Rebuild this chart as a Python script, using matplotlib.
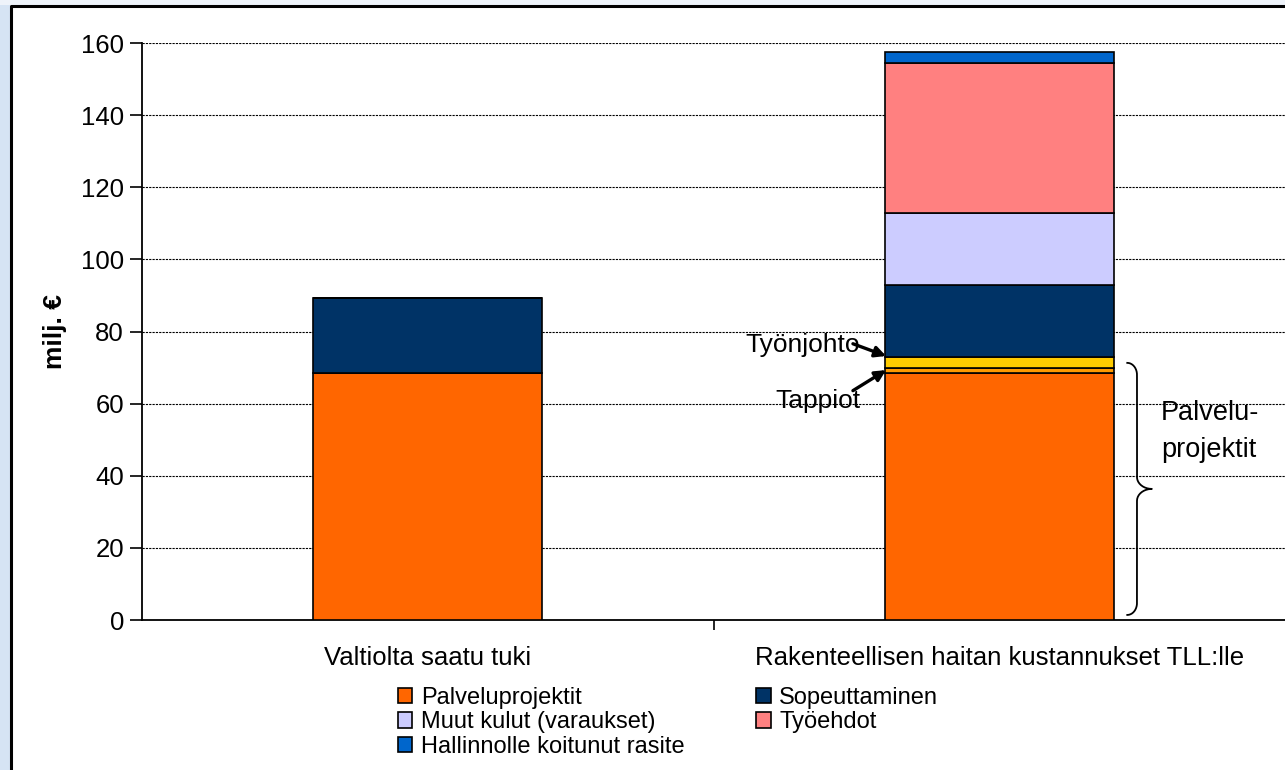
import matplotlib.pyplot as plt
from matplotlib.patches import Rectangle
from matplotlib.lines import Line2D
import numpy as np

plt.rcParams['font.family'] = ['Liberation Sans', 'DejaVu Sans']

# data
categories = ['Valtiolta saatu tuki', 'Rakenteellisen haitan kustannukset TLL:lle']
palveluprojektit = [68.5, 68.5]
tappiot = [0, 1.4]
tyonjohto = [0, 3.1]
sopeuttaminen = [20.8, 19.9]
muut_kulut = [0, 20.0]
tyoehdot = [0, 41.6]
hallinnolle = [0, 2.9]

series = [
    ('Palveluprojektit', palveluprojektit, '#FF6600'),
    ('Tappiot', tappiot, '#FF9900'),
    ('Työnjohto', tyonjohto, '#FFCC00'),
    ('Sopeuttaminen', sopeuttaminen, '#003366'),
    ('Muut kulut (varaukset)', muut_kulut, '#CCCCFF'),
    ('Työehdot', tyoehdot, '#FF8080'),
    ('Hallinnolle koitunut rasite', hallinnolle, '#0066CC'),
]

FS = 18.5

fig = plt.figure(figsize=(12.85, 7.70), dpi=100)
fig.patch.set_facecolor('white')
# left light blue strip + frame lines
fig.patches.append(Rectangle((0, 0), 10 / 1285, 1, transform=fig.transFigure,
                             facecolor='#D6E4F4', edgecolor='none', zorder=-5))
fig.patches.append(Rectangle((0, 1 - 5 / 770), 1, 5 / 770, transform=fig.transFigure,
                             facecolor='#EEF3FA', edgecolor='none', zorder=-5))
fig.lines.append(Line2D([11 / 1285, 11 / 1285, 1], [0, 1 - 6 / 770, 1 - 6 / 770],
                        transform=fig.transFigure, color='black', lw=2.2, zorder=-4))

ax = fig.add_axes([142 / 1285, 1 - 620 / 770, 1 - 142 / 1285, (620 - 43) / 770])
ax.set_facecolor('none')

x = np.arange(len(categories))
bottom = np.zeros(len(categories))
handles = {}
for name, vals, col in series:
    vals = np.array(vals, dtype=float)
    b = ax.bar(x, vals, 0.4, bottom=bottom, color=col, edgecolor='black',
               linewidth=1.2, zorder=3, label=name)
    handles[name] = b
    bottom += vals

ax.set_xlim(-0.5, 1.5)
ax.set_ylim(0, 160)
ax.set_yticks(np.arange(0, 161, 20))
ax.yaxis.grid(True, linestyle=(0, (2, 1)), color='black', linewidth=0.8, zorder=0)
ax.set_axisbelow(True)

ax.set_xticks(x)
ax.set_xticklabels(categories, fontsize=FS)
ax.set_xticks([0.5], minor=True)
ax.tick_params(axis='x', which='major', length=0, pad=19)
ax.tick_params(axis='x', which='minor', length=7, width=1.2, direction='out')
ax.tick_params(axis='y', length=9, width=1.2, labelsize=FS, pad=4)
for s in ['top', 'right']:
    ax.spines[s].set_visible(False)
for s in ['left', 'bottom']:
    ax.spines[s].set_linewidth(1.3)

ax.set_ylabel('milj. €', fontsize=19, fontweight='bold', labelpad=10)

# annotations for the thin layers
arrow = dict(arrowstyle='-|>', color='black', lw=2.4, mutation_scale=16,
             shrinkA=0, shrinkB=0)
ax.text(0.555, 76.3, 'Työnjohto', fontsize=19, ha='left', va='center')
ax.annotate('', xy=(0.802, 73.2), xytext=(0.744, 76.6), arrowprops=arrow)
ax.text(0.608, 60.8, 'Tappiot', fontsize=19, ha='left', va='center')
ax.annotate('', xy=(0.802, 69.3), xytext=(0.744, 63.6), arrowprops=arrow)

# curly brace beside the Palveluprojektit part of bar 2
bx = 1.241
y0, y1 = 1.4, 71.3
ym = (y0 + y1) / 2
cw, pw, ch = 0.017, 0.026, 3.3
q = np.linspace(0, np.pi / 2, 20)
xs_top = np.concatenate([
    bx - cw + cw * np.sin(q),
    np.full(40, bx),
    bx + (pw) * (1 - np.cos(q)),
])
ys_top = np.concatenate([
    y1 - ch * (1 - np.cos(q)),
    np.linspace(y1 - ch, ym + ch, 40),
    ym + ch * (1 - np.sin(q)),
])
xs_bot = xs_top[::-1]
ys_bot = 2 * ym - ys_top[::-1]
ax.plot(np.concatenate([xs_top, xs_bot]), np.concatenate([ys_top, ys_bot]),
        color='black', lw=1.3, zorder=4, clip_on=False)
ax.text(1.283, 61.0, 'Palvelu-\nprojektit', fontsize=19.5, ha='left', va='top',
        linespacing=1.55)

order = ['Palveluprojektit', 'Muut kulut (varaukset)', 'Hallinnolle koitunut rasite',
         'Sopeuttaminen', 'Työehdot']
leg = fig.legend([handles[n] for n in order], order, ncol=2,
                 loc='upper left', bbox_to_anchor=(386 / 1285, 1 - 675 / 770),
                 frameon=False, fontsize=17, handlelength=0.62, handleheight=0.62,
                 handletextpad=0.35, labelspacing=0.1, columnspacing=3.05,
                 borderpad=0)

fig.savefig('out.png', dpi=100)
